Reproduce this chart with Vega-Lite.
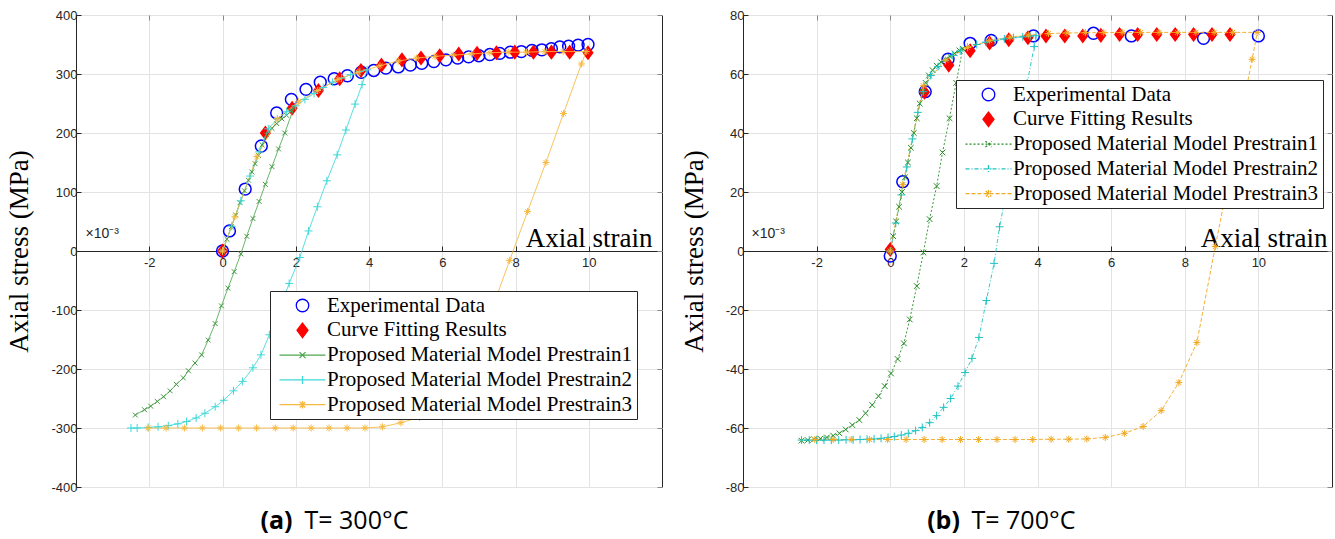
{
  "$schema": "https://vega.github.io/schema/vega-lite/v6.json",
  "padding": {"left": 5, "top": 8, "right": 5, "bottom": 0},
  "spacing": 16,
  "datasets": {
    "a": [
      {"series": "E", "x": 0, "y": 0}, {"series": "E", "x": 0.19, "y": 34}, {"series": "E", "x": 0.62, "y": 105}, {"series": "E", "x": 1.06, "y": 178},
      {"series": "E", "x": 1.48, "y": 234}, {"series": "E", "x": 1.88, "y": 257}, {"series": "E", "x": 2.28, "y": 274}, {"series": "E", "x": 2.67, "y": 286},
      {"series": "E", "x": 3.05, "y": 292}, {"series": "E", "x": 3.41, "y": 297}, {"series": "E", "x": 3.79, "y": 303}, {"series": "E", "x": 4.13, "y": 306},
      {"series": "E", "x": 4.46, "y": 310}, {"series": "E", "x": 4.8, "y": 312}, {"series": "E", "x": 5.13, "y": 315}, {"series": "E", "x": 5.44, "y": 318},
      {"series": "E", "x": 5.77, "y": 321}, {"series": "E", "x": 6.1, "y": 324}, {"series": "E", "x": 6.42, "y": 327}, {"series": "E", "x": 6.72, "y": 329},
      {"series": "E", "x": 7.0, "y": 331}, {"series": "E", "x": 7.3, "y": 333}, {"series": "E", "x": 7.57, "y": 335}, {"series": "E", "x": 7.86, "y": 337},
      {"series": "E", "x": 8.16, "y": 338}, {"series": "E", "x": 8.45, "y": 340}, {"series": "E", "x": 8.72, "y": 341}, {"series": "E", "x": 8.98, "y": 343},
      {"series": "E", "x": 9.21, "y": 346}, {"series": "E", "x": 9.45, "y": 347}, {"series": "E", "x": 9.71, "y": 349}, {"series": "E", "x": 9.98, "y": 350},
      {"series": "F", "x": 0, "y": 0}, {"series": "F", "x": 1.17, "y": 200}, {"series": "F", "x": 1.9, "y": 242}, {"series": "F", "x": 2.62, "y": 272},
      {"series": "F", "x": 3.2, "y": 292}, {"series": "F", "x": 3.78, "y": 306}, {"series": "F", "x": 4.34, "y": 315}, {"series": "F", "x": 4.9, "y": 324},
      {"series": "F", "x": 5.42, "y": 327}, {"series": "F", "x": 5.93, "y": 331}, {"series": "F", "x": 6.45, "y": 334}, {"series": "F", "x": 6.95, "y": 335},
      {"series": "F", "x": 7.48, "y": 336}, {"series": "F", "x": 7.98, "y": 337}, {"series": "F", "x": 8.49, "y": 337}, {"series": "F", "x": 8.98, "y": 337},
      {"series": "F", "x": 9.48, "y": 337}, {"series": "F", "x": 9.98, "y": 336},
      {"series": "P1", "x": 0, "y": 0}, {"series": "P1", "x": 0.12, "y": 20}, {"series": "P1", "x": 0.24, "y": 41}, {"series": "P1", "x": 0.36, "y": 61},
      {"series": "P1", "x": 0.48, "y": 82}, {"series": "P1", "x": 0.6, "y": 102}, {"series": "P1", "x": 0.71, "y": 120}, {"series": "P1", "x": 0.8, "y": 134},
      {"series": "P1", "x": 0.89, "y": 148}, {"series": "P1", "x": 0.98, "y": 162}, {"series": "P1", "x": 1.08, "y": 180}, {"series": "P1", "x": 1.2, "y": 197},
      {"series": "P1", "x": 1.35, "y": 208}, {"series": "P1", "x": 1.48, "y": 216}, {"series": "P1", "x": 1.62, "y": 224}, {"series": "P1", "x": 1.75, "y": 230},
      {"series": "P1", "x": 1.87, "y": 237}, {"series": "P1", "x": 1.95, "y": 243}, {"series": "P1", "x": 1.7, "y": 200}, {"series": "P1", "x": 1.53, "y": 173},
      {"series": "P1", "x": 1.35, "y": 143}, {"series": "P1", "x": 1.17, "y": 113}, {"series": "P1", "x": 1.0, "y": 84}, {"series": "P1", "x": 0.83, "y": 55},
      {"series": "P1", "x": 0.66, "y": 25}, {"series": "P1", "x": 0.5, "y": -5}, {"series": "P1", "x": 0.32, "y": -35}, {"series": "P1", "x": 0.15, "y": -63},
      {"series": "P1", "x": -0.03, "y": -93}, {"series": "P1", "x": -0.2, "y": -123}, {"series": "P1", "x": -0.39, "y": -151}, {"series": "P1", "x": -0.57, "y": -176},
      {"series": "P1", "x": -0.75, "y": -190}, {"series": "P1", "x": -0.93, "y": -203}, {"series": "P1", "x": -1.07, "y": -215}, {"series": "P1", "x": -1.26, "y": -226},
      {"series": "P1", "x": -1.43, "y": -237}, {"series": "P1", "x": -1.61, "y": -247}, {"series": "P1", "x": -1.78, "y": -255}, {"series": "P1", "x": -1.96, "y": -263},
      {"series": "P1", "x": -2.13, "y": -269}, {"series": "P1", "x": -2.38, "y": -278},
      {"series": "P2", "x": 0, "y": 0}, {"series": "P2", "x": 0.25, "y": 42}, {"series": "P2", "x": 0.5, "y": 85}, {"series": "P2", "x": 0.75, "y": 127},
      {"series": "P2", "x": 1.0, "y": 168}, {"series": "P2", "x": 1.25, "y": 207}, {"series": "P2", "x": 1.5, "y": 224}, {"series": "P2", "x": 1.75, "y": 236},
      {"series": "P2", "x": 2.0, "y": 246}, {"series": "P2", "x": 2.25, "y": 257}, {"series": "P2", "x": 2.5, "y": 267}, {"series": "P2", "x": 2.75, "y": 277},
      {"series": "P2", "x": 3.0, "y": 286}, {"series": "P2", "x": 3.25, "y": 293}, {"series": "P2", "x": 3.5, "y": 299}, {"series": "P2", "x": 3.75, "y": 304},
      {"series": "P2", "x": 3.95, "y": 307}, {"series": "P2", "x": 3.81, "y": 282}, {"series": "P2", "x": 3.62, "y": 249}, {"series": "P2", "x": 3.37, "y": 205},
      {"series": "P2", "x": 3.13, "y": 163}, {"series": "P2", "x": 2.85, "y": 119}, {"series": "P2", "x": 2.59, "y": 75}, {"series": "P2", "x": 2.35, "y": 34},
      {"series": "P2", "x": 2.11, "y": -11}, {"series": "P2", "x": 1.82, "y": -55}, {"series": "P2", "x": 1.55, "y": -100}, {"series": "P2", "x": 1.28, "y": -142},
      {"series": "P2", "x": 1.05, "y": -176}, {"series": "P2", "x": 0.83, "y": -198}, {"series": "P2", "x": 0.55, "y": -221}, {"series": "P2", "x": 0.3, "y": -237},
      {"series": "P2", "x": 0.03, "y": -253}, {"series": "P2", "x": -0.2, "y": -264}, {"series": "P2", "x": -0.48, "y": -275}, {"series": "P2", "x": -0.72, "y": -283},
      {"series": "P2", "x": -0.98, "y": -289}, {"series": "P2", "x": -1.22, "y": -293}, {"series": "P2", "x": -1.48, "y": -296}, {"series": "P2", "x": -1.76, "y": -298},
      {"series": "P2", "x": -2.03, "y": -299}, {"series": "P2", "x": -2.33, "y": -300}, {"series": "P2", "x": -2.5, "y": -300},
      {"series": "P3", "x": 0, "y": 0}, {"series": "P3", "x": 0.34, "y": 58}, {"series": "P3", "x": 0.94, "y": 160}, {"series": "P3", "x": 1.5, "y": 224},
      {"series": "P3", "x": 2.07, "y": 253}, {"series": "P3", "x": 2.6, "y": 272}, {"series": "P3", "x": 3.15, "y": 291}, {"series": "P3", "x": 3.7, "y": 303},
      {"series": "P3", "x": 4.3, "y": 314}, {"series": "P3", "x": 4.8, "y": 322}, {"series": "P3", "x": 5.3, "y": 327}, {"series": "P3", "x": 5.8, "y": 330},
      {"series": "P3", "x": 6.3, "y": 332}, {"series": "P3", "x": 6.8, "y": 334}, {"series": "P3", "x": 7.3, "y": 336}, {"series": "P3", "x": 7.8, "y": 337},
      {"series": "P3", "x": 8.3, "y": 337}, {"series": "P3", "x": 8.8, "y": 338}, {"series": "P3", "x": 9.3, "y": 338}, {"series": "P3", "x": 9.93, "y": 338},
      {"series": "P3", "x": 9.8, "y": 317}, {"series": "P3", "x": 9.31, "y": 233}, {"series": "P3", "x": 8.83, "y": 150}, {"series": "P3", "x": 8.33, "y": 67},
      {"series": "P3", "x": 7.84, "y": -16}, {"series": "P3", "x": 7.35, "y": -100}, {"series": "P3", "x": 6.86, "y": -175}, {"series": "P3", "x": 6.37, "y": -230},
      {"series": "P3", "x": 5.88, "y": -263}, {"series": "P3", "x": 5.38, "y": -282}, {"series": "P3", "x": 4.87, "y": -291}, {"series": "P3", "x": 4.37, "y": -298},
      {"series": "P3", "x": 3.89, "y": -300}, {"series": "P3", "x": 3.4, "y": -300}, {"series": "P3", "x": 2.91, "y": -300}, {"series": "P3", "x": 2.42, "y": -300},
      {"series": "P3", "x": 1.93, "y": -300}, {"series": "P3", "x": 1.44, "y": -300}, {"series": "P3", "x": 0.93, "y": -300}, {"series": "P3", "x": 0.44, "y": -300},
      {"series": "P3", "x": -0.05, "y": -300}, {"series": "P3", "x": -0.55, "y": -300}, {"series": "P3", "x": -1.04, "y": -300}, {"series": "P3", "x": -1.54, "y": -300},
      {"series": "P3", "x": -2.03, "y": -300}
    ],
    "b": [
      {"series": "E", "x": 0, "y": -1.7}, {"series": "E", "x": 0.34, "y": 23.5}, {"series": "E", "x": 0.95, "y": 54}, {"series": "E", "x": 1.57, "y": 65},
      {"series": "E", "x": 2.17, "y": 70.4}, {"series": "E", "x": 2.74, "y": 71.4}, {"series": "E", "x": 3.89, "y": 72.9}, {"series": "E", "x": 5.52, "y": 73.8},
      {"series": "E", "x": 6.55, "y": 72.9}, {"series": "E", "x": 8.51, "y": 72.1}, {"series": "E", "x": 10.0, "y": 72.9},
      {"series": "F", "x": 0, "y": 0.5}, {"series": "F", "x": 0.93, "y": 53.8}, {"series": "F", "x": 1.59, "y": 63}, {"series": "F", "x": 2.17, "y": 67.9},
      {"series": "F", "x": 2.7, "y": 70.5}, {"series": "F", "x": 3.22, "y": 71.6}, {"series": "F", "x": 3.74, "y": 72.3}, {"series": "F", "x": 4.23, "y": 72.9},
      {"series": "F", "x": 4.74, "y": 72.9}, {"series": "F", "x": 5.23, "y": 72.9}, {"series": "F", "x": 5.72, "y": 73.1}, {"series": "F", "x": 6.23, "y": 73.4},
      {"series": "F", "x": 6.72, "y": 73.4}, {"series": "F", "x": 7.24, "y": 73.4}, {"series": "F", "x": 7.74, "y": 73.4}, {"series": "F", "x": 8.24, "y": 73.4},
      {"series": "F", "x": 8.74, "y": 73.4}, {"series": "F", "x": 9.23, "y": 73.4},
      {"series": "P1", "x": 0, "y": 0}, {"series": "P1", "x": 0.08, "y": 5}, {"series": "P1", "x": 0.16, "y": 10}, {"series": "P1", "x": 0.24, "y": 15},
      {"series": "P1", "x": 0.32, "y": 20}, {"series": "P1", "x": 0.4, "y": 25}, {"series": "P1", "x": 0.48, "y": 30}, {"series": "P1", "x": 0.56, "y": 35},
      {"series": "P1", "x": 0.64, "y": 40}, {"series": "P1", "x": 0.72, "y": 45}, {"series": "P1", "x": 0.8, "y": 50}, {"series": "P1", "x": 0.88, "y": 54},
      {"series": "P1", "x": 0.96, "y": 57}, {"series": "P1", "x": 1.05, "y": 59.5}, {"series": "P1", "x": 1.15, "y": 61.3}, {"series": "P1", "x": 1.26, "y": 62.8},
      {"series": "P1", "x": 1.38, "y": 64}, {"series": "P1", "x": 1.5, "y": 65}, {"series": "P1", "x": 1.62, "y": 66}, {"series": "P1", "x": 1.75, "y": 67},
      {"series": "P1", "x": 1.88, "y": 68}, {"series": "P1", "x": 1.97, "y": 68.6}, {"series": "P1", "x": 1.79, "y": 57}, {"series": "P1", "x": 1.61, "y": 45},
      {"series": "P1", "x": 1.42, "y": 33.4}, {"series": "P1", "x": 1.26, "y": 22}, {"series": "P1", "x": 1.07, "y": 10.8}, {"series": "P1", "x": 0.9, "y": -0.5},
      {"series": "P1", "x": 0.72, "y": -11.9}, {"series": "P1", "x": 0.53, "y": -23.2}, {"series": "P1", "x": 0.37, "y": -31.3}, {"series": "P1", "x": 0.2, "y": -36.6},
      {"series": "P1", "x": 0.02, "y": -41.5}, {"series": "P1", "x": -0.15, "y": -45.8}, {"series": "P1", "x": -0.32, "y": -49.2}, {"series": "P1", "x": -0.49, "y": -52.2},
      {"series": "P1", "x": -0.67, "y": -55}, {"series": "P1", "x": -0.84, "y": -57.3}, {"series": "P1", "x": -1.03, "y": -59}, {"series": "P1", "x": -1.21, "y": -60.5},
      {"series": "P1", "x": -1.38, "y": -61.8}, {"series": "P1", "x": -1.55, "y": -62.6}, {"series": "P1", "x": -1.72, "y": -63.2}, {"series": "P1", "x": -1.9, "y": -63.6},
      {"series": "P1", "x": -2.07, "y": -63.8}, {"series": "P1", "x": -2.24, "y": -64.1}, {"series": "P1", "x": -2.41, "y": -64.3},
      {"series": "P2", "x": 0, "y": 0}, {"series": "P2", "x": 0.15, "y": 9.5}, {"series": "P2", "x": 0.3, "y": 19}, {"series": "P2", "x": 0.45, "y": 28.5},
      {"series": "P2", "x": 0.6, "y": 38}, {"series": "P2", "x": 0.75, "y": 47}, {"series": "P2", "x": 0.9, "y": 54}, {"series": "P2", "x": 1.1, "y": 59.5},
      {"series": "P2", "x": 1.3, "y": 62.5}, {"series": "P2", "x": 1.5, "y": 64.5}, {"series": "P2", "x": 1.7, "y": 66.3}, {"series": "P2", "x": 1.9, "y": 67.8},
      {"series": "P2", "x": 2.1, "y": 69}, {"series": "P2", "x": 2.35, "y": 70}, {"series": "P2", "x": 2.6, "y": 70.8}, {"series": "P2", "x": 2.85, "y": 71.4},
      {"series": "P2", "x": 3.1, "y": 71.9}, {"series": "P2", "x": 3.35, "y": 72.3}, {"series": "P2", "x": 3.6, "y": 72.6}, {"series": "P2", "x": 3.8, "y": 72.8},
      {"series": "P2", "x": 3.96, "y": 73}, {"series": "P2", "x": 3.91, "y": 69.3}, {"series": "P2", "x": 3.72, "y": 57}, {"series": "P2", "x": 3.53, "y": 44.6},
      {"series": "P2", "x": 3.34, "y": 32.3}, {"series": "P2", "x": 3.15, "y": 19.9}, {"series": "P2", "x": 2.97, "y": 8.2}, {"series": "P2", "x": 2.82, "y": -4.2},
      {"series": "P2", "x": 2.61, "y": -16.8}, {"series": "P2", "x": 2.41, "y": -29.3}, {"series": "P2", "x": 2.22, "y": -36.4}, {"series": "P2", "x": 2.03, "y": -41.2},
      {"series": "P2", "x": 1.84, "y": -45.8}, {"series": "P2", "x": 1.64, "y": -50}, {"series": "P2", "x": 1.45, "y": -53}, {"series": "P2", "x": 1.26, "y": -55.8},
      {"series": "P2", "x": 1.07, "y": -58.2}, {"series": "P2", "x": 0.87, "y": -59.8}, {"series": "P2", "x": 0.69, "y": -60.9}, {"series": "P2", "x": 0.49, "y": -61.8},
      {"series": "P2", "x": 0.3, "y": -62.4}, {"series": "P2", "x": 0.11, "y": -62.9}, {"series": "P2", "x": -0.06, "y": -63.2}, {"series": "P2", "x": -0.25, "y": -63.5},
      {"series": "P2", "x": -0.44, "y": -63.7}, {"series": "P2", "x": -0.63, "y": -63.8}, {"series": "P2", "x": -0.82, "y": -63.9}, {"series": "P2", "x": -1.01, "y": -64},
      {"series": "P2", "x": -1.2, "y": -64}, {"series": "P2", "x": -1.4, "y": -64.1}, {"series": "P2", "x": -1.6, "y": -64.1}, {"series": "P2", "x": -1.8, "y": -64.1},
      {"series": "P2", "x": -2.0, "y": -64.1}, {"series": "P2", "x": -2.2, "y": -64.1}, {"series": "P2", "x": -2.41, "y": -64.1},
      {"series": "P3", "x": 0, "y": 0}, {"series": "P3", "x": 0.34, "y": 22.5}, {"series": "P3", "x": 0.9, "y": 56}, {"series": "P3", "x": 1.5, "y": 64.7},
      {"series": "P3", "x": 2.1, "y": 69}, {"series": "P3", "x": 2.7, "y": 71.3}, {"series": "P3", "x": 3.25, "y": 72.5}, {"series": "P3", "x": 3.75, "y": 73.2},
      {"series": "P3", "x": 4.3, "y": 73.7}, {"series": "P3", "x": 4.8, "y": 73.9}, {"series": "P3", "x": 5.3, "y": 74}, {"series": "P3", "x": 5.8, "y": 74},
      {"series": "P3", "x": 6.3, "y": 74.1}, {"series": "P3", "x": 6.8, "y": 74.1}, {"series": "P3", "x": 7.3, "y": 74.1}, {"series": "P3", "x": 7.8, "y": 74.1},
      {"series": "P3", "x": 8.3, "y": 74.1}, {"series": "P3", "x": 8.8, "y": 74.1}, {"series": "P3", "x": 9.3, "y": 74.1}, {"series": "P3", "x": 9.97, "y": 74.1},
      {"series": "P3", "x": 9.83, "y": 65}, {"series": "P3", "x": 9.33, "y": 33}, {"series": "P3", "x": 8.83, "y": 1.5}, {"series": "P3", "x": 8.33, "y": -31},
      {"series": "P3", "x": 7.84, "y": -44.6}, {"series": "P3", "x": 7.36, "y": -54.1}, {"series": "P3", "x": 6.87, "y": -59.5}, {"series": "P3", "x": 6.36, "y": -61.8},
      {"series": "P3", "x": 5.84, "y": -63.2}, {"series": "P3", "x": 5.34, "y": -63.7}, {"series": "P3", "x": 4.85, "y": -63.8}, {"series": "P3", "x": 4.37, "y": -63.8},
      {"series": "P3", "x": 3.87, "y": -63.9}, {"series": "P3", "x": 3.39, "y": -63.9}, {"series": "P3", "x": 2.9, "y": -63.9}, {"series": "P3", "x": 2.4, "y": -63.9},
      {"series": "P3", "x": 1.91, "y": -63.9}, {"series": "P3", "x": 1.41, "y": -63.9}, {"series": "P3", "x": 0.92, "y": -63.9}, {"series": "P3", "x": 0.43, "y": -63.9},
      {"series": "P3", "x": -0.07, "y": -63.9}, {"series": "P3", "x": -0.56, "y": -63.9}, {"series": "P3", "x": -1.06, "y": -63.9}, {"series": "P3", "x": -1.55, "y": -63.9},
      {"series": "P3", "x": -2.05, "y": -63.9}
    ]
  },
  "resolve": {
    "scale": {"x": "independent", "y": "independent", "color": "independent", "fill": "independent", "stroke": "independent", "shape": "independent", "strokeDash": "independent"},
    "legend": {"fill": "independent", "stroke": "independent", "shape": "independent", "strokeDash": "independent"},
    "axis": {"x": "independent", "y": "independent"}
  },
  "hconcat": [
    {
      "width": 586,
      "height": 472,
      "data": {"name": "a"},
      "resolve": {"axis": {"x": "independent", "y": "independent"}},
      "layer": [
        {
          "transform": [{"filter": "datum.series == 'E'"}],
          "mark": {"type": "point", "shape": "circle", "filled": false, "size": 140, "strokeWidth": 1.5, "opacity": 1, "color": "#0000ff"},
          "encoding": {
            "x": {"field": "x", "type": "quantitative", "scale": {"domain": [-4, 12], "nice": false, "zero": false},
              "axis": {"orient": "top", "values": [-2, 0, 2, 4, 6, 8, 10], "labels": false, "tickSize": -5, "domain": false, "grid": false,
                "title": "×10⁻³", "titleX": 9, "titleY": 222, "titleAlign": "left", "titleBaseline": "alphabetic", "titleFont": "Liberation Sans", "titleFontSize": 14, "titleFontWeight": "normal", "titleColor": "#262626"}},
            "y": {"field": "y", "type": "quantitative", "scale": {"domain": [-400, 400], "nice": false, "zero": false},
              "axis": {"orient": "right", "values": [-400, -300, -200, -100, 0, 100, 200, 300, 400], "labels": false, "tickSize": -5, "domain": false, "grid": false, "title": null}}
          }
        },
        {
          "transform": [{"filter": "datum.series == 'F'"}],
          "mark": {"type": "point", "shape": "M0,-1.35L1,0L0,1.35L-1,0Z", "filled": true, "size": 125, "strokeWidth": 0, "opacity": 1, "color": "#ff0000"},
          "encoding": {
            "x": {"field": "x", "type": "quantitative", "scale": {"domain": [-4, 12], "nice": false, "zero": false},
              "axis": {"orient": "bottom", "labels": false, "ticks": false, "domain": false, "grid": false,
                "title": "T= 300°C", "titleX": 228, "titleY": 41, "titleAlign": "left", "titleBaseline": "alphabetic", "titleFont": "Open Sans", "titleFontSize": 25, "titleFontWeight": "normal", "titleColor": "#000000"}},
            "y": {"field": "y", "type": "quantitative", "scale": {"domain": [-400, 400], "nice": false, "zero": false}, "axis": null}
          }
        },
        {
          "transform": [{"filter": "datum.series != 'E' && datum.series != 'F'"}],
          "mark": {"type": "line", "strokeWidth": 1, "opacity": 0.85},
          "encoding": {
            "x": {"field": "x", "type": "quantitative", "scale": {"domain": [-4, 12], "nice": false, "zero": false},
              "axis": {"orient": "bottom", "offset": -236, "values": [-2, 0, 2, 4, 6, 8, 10], "labelExpr": "'' + datum.value", "tickSize": -5, "labelPadding": 10,
                "domain": true, "domainColor": "#262626", "grid": true, "gridColor": "#e3e3e3",
                "labelFont": "Liberation Sans", "labelFontSize": 13, "labelColor": "#262626", "tickColor": "#262626",
                "title": "Axial strain", "titleX": 576, "titleY": -5, "titleAlign": "right", "titleBaseline": "alphabetic", "titleFont": "Liberation Serif", "titleFontSize": 27, "titleFontWeight": "normal", "titleColor": "#000000"}},
            "y": {"field": "y", "type": "quantitative", "scale": {"domain": [-400, 400], "nice": false, "zero": false},
              "axis": {"orient": "left", "values": [-400, -300, -200, -100, 0, 100, 200, 300, 400], "labelExpr": "'' + datum.value", "tickSize": -5, "labelPadding": 4,
                "domain": false, "grid": true, "gridColor": "#e3e3e3",
                "labelFont": "Liberation Sans", "labelFontSize": 13, "labelColor": "#262626", "tickColor": "#262626",
                "title": "Axial stress (MPa)", "titlePadding": 17, "titleFont": "Liberation Serif", "titleFontSize": 27, "titleFontWeight": "normal", "titleColor": "#000000"}},
            "color": {"field": "series", "type": "nominal", "legend": null, "scale": {"domain": ["P1", "P2", "P3"], "range": ["#4fa84f", "#3ed8d8", "#f7b940"]}},
            "detail": {"field": "series"},
            "order": {"value": null}
          }
        },
        {
          "transform": [{"filter": "datum.series == 'P1'"}],
          "mark": {"type": "point", "shape": "M-1,-1L1,1M-1,1L1,-1", "filled": false, "size": 24, "strokeWidth": 1, "opacity": 1, "color": "#3f983f"},
          "encoding": {
            "x": {"field": "x", "type": "quantitative", "scale": {"domain": [-4, 12], "nice": false, "zero": false},
              "axis": {"orient": "bottom", "labels": false, "ticks": false, "domain": false, "grid": false,
                "title": "(a)", "titleX": 200, "titleY": 41, "titleAlign": "center", "titleBaseline": "alphabetic", "titleFont": "Open Sans", "titleFontSize": 25, "titleFontWeight": "bold", "titleColor": "#000000"}},
            "y": {"field": "y", "type": "quantitative", "scale": {"domain": [-400, 400], "nice": false, "zero": false}, "axis": null}
          }
        },
        {
          "transform": [{"filter": "datum.series == 'P2'"}],
          "mark": {"type": "point", "shape": "M-1,0L1,0M0,-1L0,1", "filled": false, "size": 64, "strokeWidth": 1, "opacity": 1, "color": "#3ed8d8"},
          "encoding": {
            "x": {"field": "x", "type": "quantitative", "scale": {"domain": [-4, 12], "nice": false, "zero": false}, "axis": null},
            "y": {"field": "y", "type": "quantitative", "scale": {"domain": [-400, 400], "nice": false, "zero": false}, "axis": null}
          }
        },
        {
          "transform": [{"filter": "datum.series == 'P3'"}],
          "mark": {"type": "point", "shape": "M-1,0L1,0M0,-1L0,1M-0.7,-0.7L0.7,0.7M-0.7,0.7L0.7,-0.7", "filled": false, "size": 50, "strokeWidth": 1, "opacity": 1, "color": "#f7b940"},
          "encoding": {
            "x": {"field": "x", "type": "quantitative", "scale": {"domain": [-4, 12], "nice": false, "zero": false}, "axis": null},
            "y": {"field": "y", "type": "quantitative", "scale": {"domain": [-400, 400], "nice": false, "zero": false}, "axis": null}
          }
        },
        {
          "transform": [{"filter": "false"}],
          "mark": {"type": "point", "filled": false, "strokeWidth": 1.3, "opacity": 1},
          "encoding": {
            "stroke": {"field": "series", "type": "nominal",
              "scale": {"domain": ["E", "F", "P1", "P2", "P3"], "range": ["#0000ff", "#ff0000", "#4fa84f", "#3ed8d8", "#f7b940"]},
              "legend": {"orient": "none", "legendX": 194, "legendY": 276, "title": null, "fillColor": "#ffffff", "strokeColor": "#262626", "padding": 4,
                "labelFont": "Liberation Serif", "labelFontSize": 21, "labelColor": "#000000", "labelLimit": 600,
                "symbolSize": 100, "symbolOffset": 18, "labelOffset": 14, "rowPadding": 2.8, "symbolStrokeWidth": 1.3, "symbolOpacity": 1,
                "labelExpr": "{'E': 'Experimental Data', 'F': 'Curve Fitting Results', 'P1': 'Proposed Material Model Prestrain1', 'P2': 'Proposed Material Model Prestrain2', 'P3': 'Proposed Material Model Prestrain3'}[datum.value]"}},
            "fill": {"field": "series", "type": "nominal",
              "scale": {"domain": ["E", "F", "P1", "P2", "P3"], "range": ["transparent", "#ff0000", "transparent", "transparent", "transparent"]},
              "legend": {"orient": "none", "legendX": 194, "legendY": 276, "title": null, "fillColor": "#ffffff", "strokeColor": "#262626", "padding": 4,
                "labelFont": "Liberation Serif", "labelFontSize": 21, "labelColor": "#000000", "labelLimit": 600,
                "symbolSize": 100, "symbolOffset": 18, "labelOffset": 14, "rowPadding": 2.8, "symbolStrokeWidth": 1.3, "symbolOpacity": 1,
                "labelExpr": "{'E': 'Experimental Data', 'F': 'Curve Fitting Results', 'P1': 'Proposed Material Model Prestrain1', 'P2': 'Proposed Material Model Prestrain2', 'P3': 'Proposed Material Model Prestrain3'}[datum.value]"}},
            "shape": {"field": "series", "type": "nominal",
              "scale": {"domain": ["E", "F", "P1", "P2", "P3"], "range": ["M1.25,0A1.25,1.25,0,1,1,-1.25,0A1.25,1.25,0,1,1,1.25,0Z", "M0,-1.45L1.1,0L0,1.45L-1.1,0Z", "M-4.6,0L4.6,0M-0.6,-0.6L0.6,0.6M-0.6,0.6L0.6,-0.6", "M-4.6,0L4.6,0M-0.8,0L0.8,0M0,-0.8L0,0.8", "M-4.6,0L4.6,0M-0.75,0L0.75,0M0,-0.75L0,0.75M-0.55,-0.55L0.55,0.55M-0.55,0.55L0.55,-0.55"]},
              "legend": {"orient": "none", "legendX": 194, "legendY": 276, "title": null, "fillColor": "#ffffff", "strokeColor": "#262626", "padding": 4,
                "labelFont": "Liberation Serif", "labelFontSize": 21, "labelColor": "#000000", "labelLimit": 600,
                "symbolSize": 100, "symbolOffset": 18, "labelOffset": 14, "rowPadding": 2.8, "symbolStrokeWidth": 1.3, "symbolOpacity": 1,
                "labelExpr": "{'E': 'Experimental Data', 'F': 'Curve Fitting Results', 'P1': 'Proposed Material Model Prestrain1', 'P2': 'Proposed Material Model Prestrain2', 'P3': 'Proposed Material Model Prestrain3'}[datum.value]"}}
          }
        }
      ]
    },
    {
      "width": 589,
      "height": 472,
      "data": {"name": "b"},
      "resolve": {"axis": {"x": "independent", "y": "independent"}},
      "layer": [
        {
          "transform": [{"filter": "datum.series == 'E'"}],
          "mark": {"type": "point", "shape": "circle", "filled": false, "size": 140, "strokeWidth": 1.5, "opacity": 1, "color": "#0000ff"},
          "encoding": {
            "x": {"field": "x", "type": "quantitative", "scale": {"domain": [-4, 12], "nice": false, "zero": false},
              "axis": {"orient": "top", "values": [-2, 0, 2, 4, 6, 8, 10], "labels": false, "tickSize": -5, "domain": false, "grid": false,
                "title": "×10⁻³", "titleX": 8, "titleY": 222, "titleAlign": "left", "titleBaseline": "alphabetic", "titleFont": "Liberation Sans", "titleFontSize": 14, "titleFontWeight": "normal", "titleColor": "#262626"}},
            "y": {"field": "y", "type": "quantitative", "scale": {"domain": [-80, 80], "nice": false, "zero": false},
              "axis": {"orient": "right", "values": [-80, -60, -40, -20, 0, 20, 40, 60, 80], "labels": false, "tickSize": -5, "domain": false, "grid": false, "title": null}}
          }
        },
        {
          "transform": [{"filter": "datum.series == 'F'"}],
          "mark": {"type": "point", "shape": "M0,-1.35L1,0L0,1.35L-1,0Z", "filled": true, "size": 125, "strokeWidth": 0, "opacity": 1, "color": "#ff0000"},
          "encoding": {
            "x": {"field": "x", "type": "quantitative", "scale": {"domain": [-4, 12], "nice": false, "zero": false},
              "axis": {"orient": "bottom", "labels": false, "ticks": false, "domain": false, "grid": false,
                "title": "T= 700°C", "titleX": 228, "titleY": 41, "titleAlign": "left", "titleBaseline": "alphabetic", "titleFont": "Open Sans", "titleFontSize": 25, "titleFontWeight": "normal", "titleColor": "#000000"}},
            "y": {"field": "y", "type": "quantitative", "scale": {"domain": [-80, 80], "nice": false, "zero": false}, "axis": null}
          }
        },
        {
          "transform": [{"filter": "datum.series == 'P1'"}],
          "mark": {"type": "line", "strokeWidth": 1, "opacity": 0.9, "color": "#238b23", "strokeDash": [2, 2]},
          "encoding": {
            "x": {"field": "x", "type": "quantitative", "scale": {"domain": [-4, 12], "nice": false, "zero": false},
              "axis": {"orient": "bottom", "offset": -236, "values": [-2, 0, 2, 4, 6, 8, 10], "labelExpr": "'' + datum.value", "tickSize": -5, "labelPadding": 10,
                "domain": true, "domainColor": "#262626", "grid": true, "gridColor": "#e3e3e3",
                "labelFont": "Liberation Sans", "labelFontSize": 13, "labelColor": "#262626", "tickColor": "#262626",
                "title": "Axial strain", "titleX": 584, "titleY": -5, "titleAlign": "right", "titleBaseline": "alphabetic", "titleFont": "Liberation Serif", "titleFontSize": 27, "titleFontWeight": "normal", "titleColor": "#000000"}},
            "y": {"field": "y", "type": "quantitative", "scale": {"domain": [-80, 80], "nice": false, "zero": false},
              "axis": {"orient": "left", "values": [-80, -60, -40, -20, 0, 20, 40, 60, 80], "labelExpr": "'' + datum.value", "tickSize": -5, "labelPadding": 4,
                "domain": false, "grid": true, "gridColor": "#e3e3e3",
                "labelFont": "Liberation Sans", "labelFontSize": 13, "labelColor": "#262626", "tickColor": "#262626",
                "title": "Axial stress (MPa)", "titlePadding": 17, "titleFont": "Liberation Serif", "titleFontSize": 27, "titleFontWeight": "normal", "titleColor": "#000000"}},
            "order": {"value": null}
          }
        },
        {
          "transform": [{"filter": "datum.series == 'P2'"}],
          "mark": {"type": "line", "strokeWidth": 1, "opacity": 0.9, "color": "#1fc3c3", "strokeDash": [4, 2, 1, 2]},
          "encoding": {
            "x": {"field": "x", "type": "quantitative", "scale": {"domain": [-4, 12], "nice": false, "zero": false}, "axis": null},
            "y": {"field": "y", "type": "quantitative", "scale": {"domain": [-80, 80], "nice": false, "zero": false}, "axis": null},
            "order": {"value": null}
          }
        },
        {
          "transform": [{"filter": "datum.series == 'P3'"}],
          "mark": {"type": "line", "strokeWidth": 1, "opacity": 0.9, "color": "#f2a922", "strokeDash": [4, 2]},
          "encoding": {
            "x": {"field": "x", "type": "quantitative", "scale": {"domain": [-4, 12], "nice": false, "zero": false}, "axis": null},
            "y": {"field": "y", "type": "quantitative", "scale": {"domain": [-80, 80], "nice": false, "zero": false}, "axis": null},
            "order": {"value": null}
          }
        },
        {
          "transform": [{"filter": "datum.series == 'P1'"}],
          "mark": {"type": "point", "shape": "M-1,-1L1,1M-1,1L1,-1", "filled": false, "size": 32, "strokeWidth": 1, "opacity": 1, "color": "#238b23"},
          "encoding": {
            "x": {"field": "x", "type": "quantitative", "scale": {"domain": [-4, 12], "nice": false, "zero": false},
              "axis": {"orient": "bottom", "labels": false, "ticks": false, "domain": false, "grid": false,
                "title": "(b)", "titleX": 200, "titleY": 41, "titleAlign": "center", "titleBaseline": "alphabetic", "titleFont": "Open Sans", "titleFontSize": 25, "titleFontWeight": "bold", "titleColor": "#000000"}},
            "y": {"field": "y", "type": "quantitative", "scale": {"domain": [-80, 80], "nice": false, "zero": false}, "axis": null}
          }
        },
        {
          "transform": [{"filter": "datum.series == 'P2'"}],
          "mark": {"type": "point", "shape": "M-1,0L1,0M0,-1L0,1", "filled": false, "size": 64, "strokeWidth": 1, "opacity": 1, "color": "#1fc3c3"},
          "encoding": {
            "x": {"field": "x", "type": "quantitative", "scale": {"domain": [-4, 12], "nice": false, "zero": false}, "axis": null},
            "y": {"field": "y", "type": "quantitative", "scale": {"domain": [-80, 80], "nice": false, "zero": false}, "axis": null}
          }
        },
        {
          "transform": [{"filter": "datum.series == 'P3'"}],
          "mark": {"type": "point", "shape": "M-1,0L1,0M0,-1L0,1M-0.7,-0.7L0.7,0.7M-0.7,0.7L0.7,-0.7", "filled": false, "size": 50, "strokeWidth": 1, "opacity": 1, "color": "#f2a922"},
          "encoding": {
            "x": {"field": "x", "type": "quantitative", "scale": {"domain": [-4, 12], "nice": false, "zero": false}, "axis": null},
            "y": {"field": "y", "type": "quantitative", "scale": {"domain": [-80, 80], "nice": false, "zero": false}, "axis": null}
          }
        },
        {
          "transform": [{"filter": "false"}],
          "mark": {"type": "point", "filled": false, "strokeWidth": 1.3, "opacity": 1},
          "encoding": {
            "stroke": {"field": "series", "type": "nominal",
              "scale": {"domain": ["E", "F", "P1", "P2", "P3"], "range": ["#0000ff", "#ff0000", "#238b23", "#1fc3c3", "#f2a922"]},
              "legend": {"orient": "none", "legendX": 213, "legendY": 65, "title": null, "fillColor": "#ffffff", "strokeColor": "#262626", "padding": 4,
                "labelFont": "Liberation Serif", "labelFontSize": 21, "labelColor": "#000000", "labelLimit": 600,
                "symbolSize": 100, "symbolOffset": 18, "labelOffset": 14, "rowPadding": 2.8, "symbolStrokeWidth": 1.3, "symbolOpacity": 1,
                "labelExpr": "{'E': 'Experimental Data', 'F': 'Curve Fitting Results', 'P1': 'Proposed Material Model Prestrain1', 'P2': 'Proposed Material Model Prestrain2', 'P3': 'Proposed Material Model Prestrain3'}[datum.value]"}},
            "fill": {"field": "series", "type": "nominal",
              "scale": {"domain": ["E", "F", "P1", "P2", "P3"], "range": ["transparent", "#ff0000", "transparent", "transparent", "transparent"]},
              "legend": {"orient": "none", "legendX": 213, "legendY": 65, "title": null, "fillColor": "#ffffff", "strokeColor": "#262626", "padding": 4,
                "labelFont": "Liberation Serif", "labelFontSize": 21, "labelColor": "#000000", "labelLimit": 600,
                "symbolSize": 100, "symbolOffset": 18, "labelOffset": 14, "rowPadding": 2.8, "symbolStrokeWidth": 1.3, "symbolOpacity": 1,
                "labelExpr": "{'E': 'Experimental Data', 'F': 'Curve Fitting Results', 'P1': 'Proposed Material Model Prestrain1', 'P2': 'Proposed Material Model Prestrain2', 'P3': 'Proposed Material Model Prestrain3'}[datum.value]"}},
            "shape": {"field": "series", "type": "nominal",
              "scale": {"domain": ["E", "F", "P1", "P2", "P3"], "range": ["M1.25,0A1.25,1.25,0,1,1,-1.25,0A1.25,1.25,0,1,1,1.25,0Z", "M0,-1.45L1.1,0L0,1.45L-1.1,0Z", "M-4.6,0L4.6,0M-0.6,-0.6L0.6,0.6M-0.6,0.6L0.6,-0.6", "M-4.6,0L4.6,0M-0.8,0L0.8,0M0,-0.8L0,0.8", "M-4.6,0L4.6,0M-0.75,0L0.75,0M0,-0.75L0,0.75M-0.55,-0.55L0.55,0.55M-0.55,0.55L0.55,-0.55"]},
              "legend": {"orient": "none", "legendX": 213, "legendY": 65, "title": null, "fillColor": "#ffffff", "strokeColor": "#262626", "padding": 4,
                "labelFont": "Liberation Serif", "labelFontSize": 21, "labelColor": "#000000", "labelLimit": 600,
                "symbolSize": 100, "symbolOffset": 18, "labelOffset": 14, "rowPadding": 2.8, "symbolStrokeWidth": 1.3, "symbolOpacity": 1,
                "labelExpr": "{'E': 'Experimental Data', 'F': 'Curve Fitting Results', 'P1': 'Proposed Material Model Prestrain1', 'P2': 'Proposed Material Model Prestrain2', 'P3': 'Proposed Material Model Prestrain3'}[datum.value]"}},
            "strokeDash": {"field": "series", "type": "nominal",
              "scale": {"domain": ["E", "F", "P1", "P2", "P3"], "range": [[1, 0], [1, 0], [2, 2], [4, 2, 1, 2], [4, 2]]},
              "legend": {"orient": "none", "legendX": 213, "legendY": 65, "title": null, "fillColor": "#ffffff", "strokeColor": "#262626", "padding": 4,
                "labelFont": "Liberation Serif", "labelFontSize": 21, "labelColor": "#000000", "labelLimit": 600,
                "symbolSize": 100, "symbolOffset": 18, "labelOffset": 14, "rowPadding": 2.8, "symbolStrokeWidth": 1.3, "symbolOpacity": 1,
                "labelExpr": "{'E': 'Experimental Data', 'F': 'Curve Fitting Results', 'P1': 'Proposed Material Model Prestrain1', 'P2': 'Proposed Material Model Prestrain2', 'P3': 'Proposed Material Model Prestrain3'}[datum.value]"}}
          }
        }
      ]
    }
  ],
  "config": {
    "view": {"stroke": "#262626", "strokeWidth": 1},
    "background": "#ffffff"
  }
}
